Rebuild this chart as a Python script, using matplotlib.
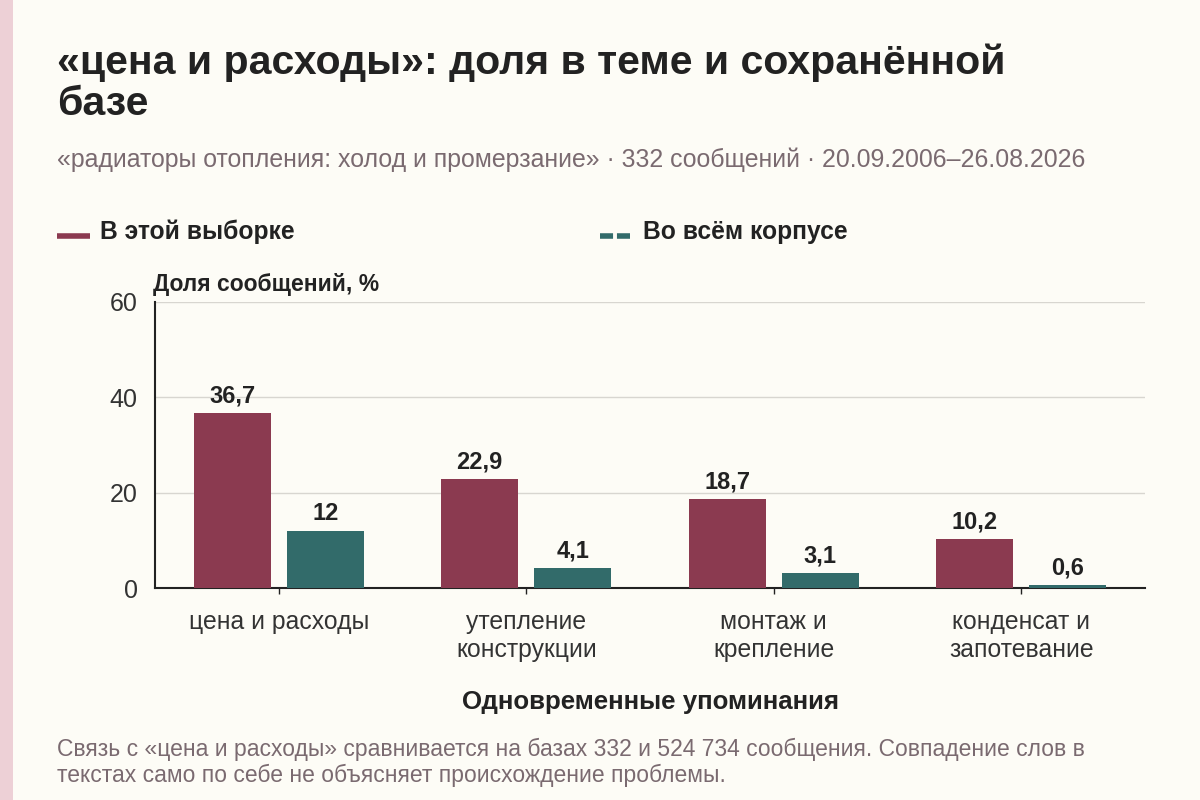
import numpy as np
import matplotlib.pyplot as plt
from matplotlib.patches import Rectangle
from matplotlib.lines import Line2D

plt.rcParams['font.family'] = ['Liberation Sans', 'DejaVu Sans']

# data
categories = ['цена и расходы', 'утепление\nконструкции', 'монтаж и\nкрепление', 'конденсат и\nзапотевание']
sample_vals = [36.7, 22.9, 18.7, 10.2]
corpus_vals = [12, 4.1, 3.1, 0.6]
sample_labels = ['36,7', '22,9', '18,7', '10,2']
corpus_labels = ['12', '4,1', '3,1', '0,6']
y_ticks = [0, 20, 40, 60]

title = '«цена и расходы»: доля в теме и сохранённой\nбазе'
subtitle = '«радиаторы отопления: холод и промерзание» · 332 сообщений · 20.09.2006–26.08.2026'
footer = ('Связь с «цена и расходы» сравнивается на базах 332 и 524 734 сообщения. Совпадение слов в\n'
          'текстах само по себе не объясняет происхождение проблемы.')

bg = '#FDFCF6'
red = '#8B3A50'
teal = '#326B6A'
dark = '#222222'
grey = '#7A6A70'

fig = plt.figure(figsize=(12, 8), dpi=100, facecolor=bg)
fig.patches.append(Rectangle((0, 0), 13 / 1200, 1, transform=fig.transFigure,
                             facecolor='#EDD0D6', edgecolor='none'))

ax = fig.add_axes([155 / 1200, (800 - 588) / 800, 990 / 1200, 286 / 800])
ax.set_facecolor(bg)

x = np.arange(len(categories))
w = 0.31
off = 0.188
b1 = ax.bar(x - off, sample_vals, w, color=red, zorder=3)
b2 = ax.bar(x + off, corpus_vals, w, color=teal, zorder=3)

for rect, lab in zip(b1, sample_labels):
    ax.text(rect.get_x() + rect.get_width() / 2, rect.get_height() + 1.2, lab,
            ha='center', va='bottom', fontsize=17, fontweight='bold', color=dark)
for rect, lab in zip(b2, corpus_labels):
    ax.text(rect.get_x() + rect.get_width() / 2, rect.get_height() + 1.2, lab,
            ha='center', va='bottom', fontsize=17, fontweight='bold', color=dark)

ax.set_xlim(-0.5, 3.5)
ax.set_ylim(0, 60)
ax.set_yticks(y_ticks)
ax.set_yticklabels([str(v) for v in y_ticks], fontsize=18, color='#333333')
ax.tick_params(axis='y', length=0, pad=12.5)
ax.set_xticks(x)
ax.set_xticklabels(categories, fontsize=17.8, color='#333333', linespacing=1.2)
ax.tick_params(axis='x', length=4, width=1, color=dark, pad=12)
ax.grid(axis='y', color='#D8D6D0', linewidth=1, zorder=0)
for s in ['top', 'right']:
    ax.spines[s].set_visible(False)
ax.spines['left'].set_color(dark)
ax.spines['bottom'].set_color(dark)
ax.spines['left'].set_linewidth(1.5)
ax.spines['bottom'].set_linewidth(1.5)

ax.set_xlabel('Одновременные упоминания', fontsize=18.6, fontweight='bold', color=dark, labelpad=20.5)

fig.text(153 / 1200, 1 - 284 / 800, 'Доля сообщений, %', fontsize=16.5, fontweight='bold',
         color=dark, va='center', ha='left')

fig.text(57 / 1200, 1 - 43 / 800, title, fontsize=29.5, fontweight='bold', color=dark,
         va='top', ha='left', linespacing=1.13)
fig.text(57 / 1200, 1 - 160 / 800, subtitle, fontsize=17.9, color=grey, va='center', ha='left')

# legend
fig.add_artist(Line2D([57 / 1200, 90 / 1200], [1 - 236 / 800] * 2, color=red, linewidth=4,
                      solid_capstyle='butt', transform=fig.transFigure))
fig.text(100 / 1200, 1 - 232 / 800, 'В этой выборке', fontsize=17.7, fontweight='bold',
         color=dark, va='center', ha='left')
fig.add_artist(Line2D([600 / 1200, 632 / 1200], [1 - 236 / 800] * 2, color=teal, linewidth=4,
                      linestyle=(0, (2.35, 0.7)), dash_capstyle='butt',
                      transform=fig.transFigure))
fig.text(643 / 1200, 1 - 232 / 800, 'Во всём корпусе', fontsize=17.7, fontweight='bold',
         color=dark, va='center', ha='left')

fig.text(57 / 1200, 1 - 738 / 800, footer, fontsize=16.5, color=grey, va='top', ha='left',
         linespacing=1.12)

fig.savefig('out.png', dpi=100, facecolor=bg)
